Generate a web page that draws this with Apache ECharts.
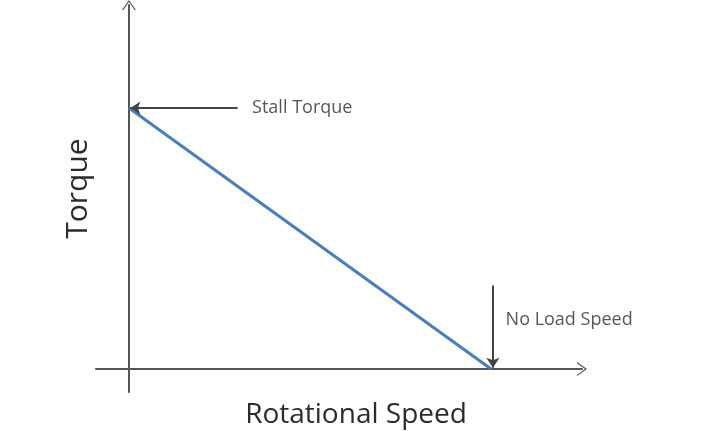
<!DOCTYPE html>
<html>
<head>
<meta charset="utf-8">
<script src="https://cdn.jsdelivr.net/npm/echarts@6/dist/echarts.min.js"></script>
<style>
html,body{margin:0;padding:0;background:#fff;}
#chart{width:720px;height:431px;}
</style>
</head>
<body>
<div id="chart"></div>
<script>
// torque-speed curve of a DC motor, arbitrary units
var speed = [0, 100];
var torque = [100, 0];
var stallArrow = [[30, 100], [0.4, 100]];
var noLoadArrow = [[100.5, 32], [100.5, 0.5]];
var notes = [
    {name: 'Stall Torque', value: [34, 100]},
    {name: 'No Load Speed', value: [104, 18.8]}
];

var chevron = 'path://M0,0 L7,10 L5.6,10 L0,2 L-5.6,10 L-7,10 Z';
var axisColor = '#555';
var font = 'Open Sans';

var chart = echarts.init(document.getElementById('chart'));
var option = {
    backgroundColor: '#fff',
    animation: false,
    grid: {left: 96, right: 138, top: 5, bottom: 39, outerBoundsMode: 'none', containLabel: false},
    xAxis: {
        type: 'value',
        min: -9.1,
        max: 125.1,
        name: 'Rotational Speed',
        nameLocation: 'middle',
        nameGap: 23,
        nameTextStyle: {fontFamily: font, fontSize: 28, color: '#2b2b2b', verticalAlign: 'middle', padding: [0, 0, 0, 34]},
        axisLine: {
            onZero: true,
            symbol: ['none', chevron],
            symbolSize: [14, 12],
            lineStyle: {color: axisColor, width: 2}
        },
        axisTick: {show: false},
        axisLabel: {show: false},
        splitLine: {show: false}
    },
    yAxis: {
        type: 'value',
        min: -8.8,
        max: 139.5,
        name: 'Torque',
        nameLocation: 'middle',
        nameGap: 18,
        nameTextStyle: {fontFamily: font, fontSize: 30, color: '#2b2b2b', verticalAlign: 'middle', padding: [0, 0, 0, 20]},
        axisLine: {
            onZero: true,
            symbol: ['none', chevron],
            symbolSize: [14, 12],
            lineStyle: {color: axisColor, width: 2}
        },
        axisTick: {show: false},
        axisLabel: {show: false},
        splitLine: {show: false}
    },
    series: [
        {
            type: 'line',
            data: speed.map(function (s, i) { return [s, torque[i]]; }),
            showSymbol: false,
            lineStyle: {color: '#4a7ebb', width: 3},
            markLine: {
                silent: true,
                symbol: ['none', 'arrow'],
                symbolSize: 10,
                label: {show: false},
                lineStyle: {color: '#444', width: 2, type: 'solid'},
                data: [
                    [{coord: stallArrow[0]}, {coord: stallArrow[1]}],
                    [{coord: noLoadArrow[0]}, {coord: noLoadArrow[1]}]
                ]
            }
        },
        {
            type: 'scatter',
            symbolSize: 0,
            data: notes,
            label: {
                show: true,
                position: 'right',
                distance: 0,
                formatter: '{b}',
                fontFamily: font,
                fontSize: 18,
                color: '#2b2b2b'
            }
        }
    ]
};
chart.setOption(option);
window.onresize = function () {
    chart.resize();
};
</script>
</body>
</html>
